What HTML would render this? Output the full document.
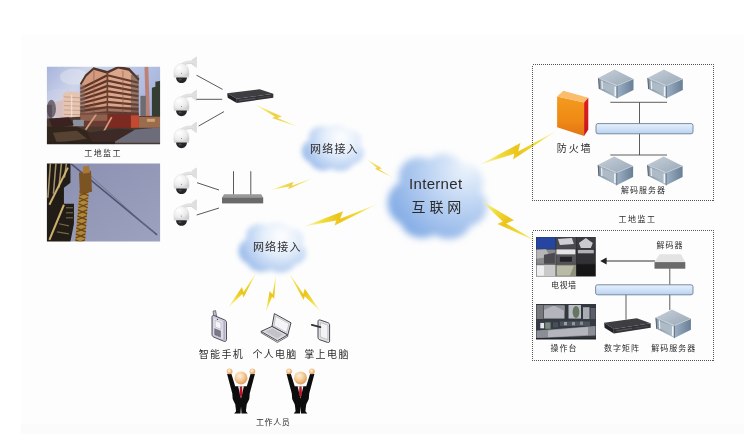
<!DOCTYPE html>
<html lang="zh-CN">
<head>
<meta charset="utf-8">
<title>工地监工 网络接入 互联网</title>
<style>
html,body{margin:0;padding:0;background:#ffffff;}
body{width:749px;height:444px;overflow:hidden;font-family:'Liberation Sans','Noto Sans CJK SC',sans-serif;}
svg{display:block;}
svg text{font-family:'Liberation Sans','Noto Sans CJK SC',sans-serif;}
</style>
</head>
<body>
<svg width="749" height="444" viewBox="0 0 749 444">
<defs>

<filter id="tb" filterUnits="userSpaceOnUse" x="0" y="0" width="749" height="444"><feGaussianBlur stdDeviation="0.32"/></filter>
<filter id="b1" x="-20%" y="-20%" width="140%" height="140%"><feGaussianBlur stdDeviation="0.45"/></filter>
<filter id="b06" x="-20%" y="-20%" width="140%" height="140%"><feGaussianBlur stdDeviation="0.6"/></filter>
<filter id="b2" x="-30%" y="-30%" width="160%" height="160%"><feGaussianBlur stdDeviation="0.8"/></filter>
<filter id="cb" x="-40%" y="-40%" width="180%" height="180%"><feGaussianBlur stdDeviation="3.6"/></filter>
<filter id="cb2" x="-40%" y="-40%" width="180%" height="180%"><feGaussianBlur stdDeviation="6"/></filter>
<filter id="cb3" x="-40%" y="-40%" width="180%" height="180%"><feGaussianBlur stdDeviation="2.6"/></filter>
<linearGradient id="bolt" x1="0" y1="0" x2="1" y2="0">
 <stop offset="0" stop-color="#f9ec9a"/><stop offset="0.3" stop-color="#f0d436"/>
 <stop offset="0.5" stop-color="#e9c61a"/><stop offset="0.7" stop-color="#f0d436"/><stop offset="1" stop-color="#f9ec9a"/>
</linearGradient>
<linearGradient id="bar" x1="0" y1="0" x2="0" y2="1">
 <stop offset="0" stop-color="#e6f0fb"/><stop offset="0.45" stop-color="#d3e4f8"/><stop offset="1" stop-color="#b7d2f2"/>
</linearGradient>
<linearGradient id="srvTop" x1="0" y1="0" x2="1" y2="1">
 <stop offset="0" stop-color="#c6d0da"/><stop offset="1" stop-color="#9aa8b6"/>
</linearGradient>
<linearGradient id="srvFront" x1="0" y1="0" x2="1" y2="0">
 <stop offset="0" stop-color="#8797a6"/><stop offset="1" stop-color="#b0bfcd"/>
</linearGradient>
<linearGradient id="srvSide" x1="0" y1="0" x2="1" y2="0">
 <stop offset="0" stop-color="#9cb0c4"/><stop offset="1" stop-color="#697f95"/>
</linearGradient>
<linearGradient id="fwFront" x1="0" y1="0" x2="0" y2="1">
 <stop offset="0" stop-color="#f39a1c"/><stop offset="0.6" stop-color="#ef8a17"/><stop offset="1" stop-color="#e3741a"/>
</linearGradient>
<linearGradient id="fwSide" x1="0" y1="0" x2="0" y2="1">
 <stop offset="0" stop-color="#e0201c"/><stop offset="1" stop-color="#c8161a"/>
</linearGradient>
<radialGradient id="head" cx="0.4" cy="0.35" r="0.7">
 <stop offset="0" stop-color="#fff0d8"/><stop offset="0.45" stop-color="#f7cf9f"/><stop offset="1" stop-color="#d99a5c"/>
</radialGradient>
<radialGradient id="camBody" cx="0.35" cy="0.3" r="0.8">
 <stop offset="0" stop-color="#ffffff"/><stop offset="0.6" stop-color="#ececec"/><stop offset="1" stop-color="#c9c9c9"/>
</radialGradient>
<linearGradient id="sky1" x1="0" y1="0" x2="1" y2="0.55">
 <stop offset="0" stop-color="#a2b0da"/><stop offset="0.3" stop-color="#cdd4ea"/><stop offset="0.7" stop-color="#b4c0e2"/><stop offset="1" stop-color="#9aaad8"/>
</linearGradient>
<linearGradient id="sky2" x1="0" y1="0" x2="1" y2="1">
 <stop offset="0" stop-color="#8a8fb0"/><stop offset="1" stop-color="#9da2c0"/>
</linearGradient>
<radialGradient id="cl1" cx="0.55" cy="0.35" r="0.65">
 <stop offset="0" stop-color="#eef4fc"/><stop offset="0.5" stop-color="#cfdff5"/><stop offset="1" stop-color="#9dbdea"/>
</radialGradient>
<radialGradient id="cl2" cx="0.6" cy="0.3" r="0.75">
 <stop offset="0" stop-color="#e6effb"/><stop offset="0.45" stop-color="#bdd3f2"/><stop offset="1" stop-color="#86aee6"/>
</radialGradient>
<radialGradient id="cg1" gradientUnits="userSpaceOnUse" cx="341.0" cy="137.5" r="41.6"><stop offset="0" stop-color="#ffffff"/><stop offset="0.4" stop-color="#e4eefa"/><stop offset="0.72" stop-color="#bdd3f3"/><stop offset="1" stop-color="#98b9e9"/></radialGradient><radialGradient id="cg2" gradientUnits="userSpaceOnUse" cx="281.2" cy="236.2" r="45.5"><stop offset="0" stop-color="#ffffff"/><stop offset="0.4" stop-color="#e4eefa"/><stop offset="0.72" stop-color="#bdd3f3"/><stop offset="1" stop-color="#98b9e9"/></radialGradient><radialGradient id="cg3" gradientUnits="userSpaceOnUse" cx="465.8" cy="168.7" r="85.0"><stop offset="0" stop-color="#ecf3fc"/><stop offset="0.4" stop-color="#c2d7f4"/><stop offset="0.72" stop-color="#a1c0ec"/><stop offset="1" stop-color="#82abe5"/></radialGradient><linearGradient id="bg4" gradientUnits="userSpaceOnUse" x1="254.1" y1="103.9" x2="299.8" y2="127.4"><stop offset="0" stop-color="#f7ee96" stop-opacity="0.5"/><stop offset="0.25" stop-color="#f0de3a"/><stop offset="0.47" stop-color="#ecc41c"/><stop offset="0.75" stop-color="#f0de3a"/><stop offset="1" stop-color="#f7ee96" stop-opacity="0.5"/></linearGradient><linearGradient id="bg5" gradientUnits="userSpaceOnUse" x1="269.7" y1="190.2" x2="314.5" y2="177.6"><stop offset="0" stop-color="#f7ee96" stop-opacity="0.5"/><stop offset="0.25" stop-color="#f0de3a"/><stop offset="0.47" stop-color="#ecc41c"/><stop offset="0.75" stop-color="#f0de3a"/><stop offset="1" stop-color="#f7ee96" stop-opacity="0.5"/></linearGradient><linearGradient id="bg6" gradientUnits="userSpaceOnUse" x1="365.7" y1="158.4" x2="394.3" y2="178.6"><stop offset="0" stop-color="#f7ee96" stop-opacity="0.5"/><stop offset="0.25" stop-color="#f0de3a"/><stop offset="0.47" stop-color="#ecc41c"/><stop offset="0.75" stop-color="#f0de3a"/><stop offset="1" stop-color="#f7ee96" stop-opacity="0.5"/></linearGradient><linearGradient id="bg7" gradientUnits="userSpaceOnUse" x1="480.2" y1="164.6" x2="556.5" y2="130.8"><stop offset="0" stop-color="#f7ee96" stop-opacity="0.5"/><stop offset="0.25" stop-color="#f0de3a"/><stop offset="0.47" stop-color="#ecc41c"/><stop offset="0.75" stop-color="#f0de3a"/><stop offset="1" stop-color="#f7ee96" stop-opacity="0.5"/></linearGradient><linearGradient id="bg8" gradientUnits="userSpaceOnUse" x1="481.0" y1="200.6" x2="537.8" y2="242.0"><stop offset="0" stop-color="#f7ee96" stop-opacity="0.5"/><stop offset="0.25" stop-color="#f0de3a"/><stop offset="0.47" stop-color="#ecc41c"/><stop offset="0.75" stop-color="#f0de3a"/><stop offset="1" stop-color="#f7ee96" stop-opacity="0.5"/></linearGradient><linearGradient id="bg9" gradientUnits="userSpaceOnUse" x1="303.8" y1="226.5" x2="377.5" y2="203.9"><stop offset="0" stop-color="#f7ee96" stop-opacity="0.5"/><stop offset="0.25" stop-color="#f0de3a"/><stop offset="0.47" stop-color="#ecc41c"/><stop offset="0.75" stop-color="#f0de3a"/><stop offset="1" stop-color="#f7ee96" stop-opacity="0.5"/></linearGradient><linearGradient id="bg10" gradientUnits="userSpaceOnUse" x1="228.1" y1="307.7" x2="256.6" y2="272.0"><stop offset="0" stop-color="#f7ee96" stop-opacity="0.5"/><stop offset="0.25" stop-color="#f0de3a"/><stop offset="0.47" stop-color="#ecc41c"/><stop offset="0.75" stop-color="#f0de3a"/><stop offset="1" stop-color="#f7ee96" stop-opacity="0.5"/></linearGradient><linearGradient id="bg11" gradientUnits="userSpaceOnUse" x1="265.7" y1="312.6" x2="276.1" y2="273.9"><stop offset="0" stop-color="#f7ee96" stop-opacity="0.5"/><stop offset="0.25" stop-color="#f0de3a"/><stop offset="0.47" stop-color="#ecc41c"/><stop offset="0.75" stop-color="#f0de3a"/><stop offset="1" stop-color="#f7ee96" stop-opacity="0.5"/></linearGradient><linearGradient id="bg12" gradientUnits="userSpaceOnUse" x1="320.5" y1="311.4" x2="288.4" y2="272.0"><stop offset="0" stop-color="#f7ee96" stop-opacity="0.5"/><stop offset="0.25" stop-color="#f0de3a"/><stop offset="0.47" stop-color="#ecc41c"/><stop offset="0.75" stop-color="#f0de3a"/><stop offset="1" stop-color="#f7ee96" stop-opacity="0.5"/></linearGradient>
</defs>
<rect x="21" y="34.6" width="723" height="399.4" fill="#fdfdfd"/>
<rect x="21" y="424" width="723" height="10" fill="#fbfbfb"/>
<g filter="url(#cb3)" fill="url(#cg1)"><ellipse cx="333.0" cy="148.8" rx="25.0" ry="16.5"/><ellipse cx="315.4" cy="151.2" rx="13.4" ry="12.5"/><ellipse cx="349.6" cy="153.0" rx="14.1" ry="11.5"/><ellipse cx="321.8" cy="137.0" rx="12.8" ry="11.0"/><ellipse cx="336.8" cy="134.5" rx="12.8" ry="10.0"/><ellipse cx="349.6" cy="140.0" rx="11.5" ry="10.0"/><ellipse cx="323.4" cy="160.5" rx="13.4" ry="10.0"/><ellipse cx="340.0" cy="162.0" rx="13.4" ry="9.0"/></g>
<g filter="url(#cb3)" fill="url(#cg2)"><ellipse cx="272.5" cy="248.3" rx="27.3" ry="17.8"/><ellipse cx="253.2" cy="251.1" rx="14.7" ry="13.5"/><ellipse cx="290.7" cy="252.9" rx="15.4" ry="12.4"/><ellipse cx="260.2" cy="235.7" rx="14.0" ry="11.9"/><ellipse cx="276.7" cy="233.0" rx="14.0" ry="10.8"/><ellipse cx="290.7" cy="238.9" rx="12.6" ry="10.8"/><ellipse cx="262.0" cy="261.0" rx="14.7" ry="10.8"/><ellipse cx="280.2" cy="262.7" rx="14.7" ry="9.7"/></g>
<g filter="url(#cb)" fill="url(#cg3)"><ellipse cx="437.5" cy="198.3" rx="40.2" ry="30.0"/><ellipse cx="409.2" cy="202.8" rx="21.6" ry="22.8"/><ellipse cx="464.3" cy="206.0" rx="22.7" ry="20.9"/><ellipse cx="419.5" cy="176.9" rx="20.6" ry="20.0"/><ellipse cx="443.7" cy="172.3" rx="20.6" ry="18.2"/><ellipse cx="464.3" cy="182.3" rx="18.5" ry="18.2"/><ellipse cx="422.1" cy="219.7" rx="21.6" ry="18.2"/><ellipse cx="448.8" cy="222.4" rx="21.6" ry="16.4"/></g>
<polygon points="254.1,103.9 282.0,116.4 277.5,117.9 299.8,127.4 272.0,118.0 274.9,116.8" fill="url(#bg4)" filter="url(#b1)" opacity="0.8"/>
<polygon points="269.7,190.2 293.7,181.8 291.7,185.8 314.5,177.6 288.1,189.3 289.2,186.6" fill="url(#bg5)" filter="url(#b1)" opacity="0.8"/>
<polygon points="365.7,158.4 382.0,168.4 378.7,169.1 394.3,178.6 374.9,168.7 377.1,168.1" fill="url(#bg6)" filter="url(#b1)" opacity="0.8"/>
<polygon points="480.2,164.6 520.4,143.1 518.2,151.6 556.5,130.8 513.1,159.6 514.2,153.8" fill="url(#bg7)" filter="url(#b1)" opacity="1.0"/>
<polygon points="481.0,200.6 514.0,220.3 506.1,223.5 537.8,242.0 497.4,224.0 502.7,221.5" fill="url(#bg8)" filter="url(#b1)" opacity="1.0"/>
<polygon points="303.8,226.5 343.1,211.2 340.1,218.7 377.5,203.9 334.6,225.5 336.2,220.4" fill="url(#bg9)" filter="url(#b1)" opacity="1.0"/>
<polygon points="228.1,307.7 241.9,286.9 243.6,292.0 256.6,272.0 243.6,297.5 242.2,294.1" fill="url(#bg10)" filter="url(#b1)" opacity="1.0"/>
<polygon points="265.7,312.6 269.7,291.1 272.5,294.5 276.1,273.9 274.2,298.9 272.1,296.7" fill="url(#bg11)" filter="url(#b1)" opacity="1.0"/>
<polygon points="320.5,311.4 304.7,288.5 303.3,294.0 288.4,272.0 303.6,299.9 304.8,296.3" fill="url(#bg12)" filter="url(#b1)" opacity="1.0"/>
<svg x="46.9" y="66.8" width="113.2" height="77.5" viewBox="0 0 113.2 77.5" preserveAspectRatio="none" overflow="hidden"><g filter="url(#b06)"><rect x="-3" y="-3" width="120" height="84" fill="url(#sky1)"/><ellipse cx="27" cy="10" rx="14" ry="8" fill="#eceef6" opacity="0.4"/><ellipse cx="12" cy="30" rx="14" ry="8" fill="#d4d4e4" opacity="0.35"/><polygon points="8.5,35 16,33 16,53 8.5,53" fill="#d6c0c2"/><polygon points="16,27 22,24.5 34,26 34,53 16,53" fill="#e6c4b2"/><g stroke="#b98f7c" stroke-width="0.9" opacity="0.75"><line x1="17" y1="30.0" x2="33.5" y2="31.0"/><line x1="17" y1="34.4" x2="33.5" y2="35.2"/><line x1="17" y1="38.8" x2="33.5" y2="39.4"/><line x1="17" y1="43.2" x2="33.5" y2="43.6"/><line x1="17" y1="47.6" x2="33.5" y2="47.8"/></g><rect x="24" y="28" width="1.4" height="24" fill="#f4e2d6" opacity="0.8"/><ellipse cx="4.5" cy="42" rx="4.6" ry="9" fill="#5b5058" opacity="0.8"/><rect x="-1" y="38" width="6" height="16" fill="#4a4046" opacity="0.6"/><polygon points="33.5,16 38.7,8 46.8,1 60.5,5 60.5,50 33.5,50" fill="#d49a80"/><polygon points="60.5,5 71.3,0 82,2 91.5,12 91.5,50 60.5,50" fill="#dca68c"/><g stroke="#5e3628" stroke-width="2.3"><line x1="33.5" y1="22.0" x2="60.5" y2="8.5"/><line x1="33.5" y1="25.7" x2="60.5" y2="13.8"/><line x1="33.5" y1="29.4" x2="60.5" y2="19.1"/><line x1="33.5" y1="33.1" x2="60.5" y2="24.4"/><line x1="33.5" y1="36.8" x2="60.5" y2="29.7"/><line x1="33.5" y1="40.6" x2="60.5" y2="35.0"/><line x1="33.5" y1="44.3" x2="60.5" y2="40.3"/><line x1="33.5" y1="48.0" x2="60.5" y2="45.6"/></g><g stroke="#643a2c" stroke-width="2.2"><line x1="60.5" y1="8.5" x2="91.5" y2="16.0"/><line x1="60.5" y1="13.8" x2="91.5" y2="20.4"/><line x1="60.5" y1="19.1" x2="91.5" y2="24.8"/><line x1="60.5" y1="24.4" x2="91.5" y2="29.3"/><line x1="60.5" y1="29.7" x2="91.5" y2="33.7"/><line x1="60.5" y1="35.0" x2="91.5" y2="38.1"/><line x1="60.5" y1="40.3" x2="91.5" y2="42.5"/><line x1="60.5" y1="45.6" x2="91.5" y2="46.9"/></g><polygon points="33,17 38.2,8 46.6,0.4 60.5,4.2 71.3,-0.8 82.5,1.2 92.6,12 91.5,14.2 81.8,4 71.3,1.6 60.5,7 46.9,3 39.5,9.6 34.4,18.2" fill="#4e342c"/><line x1="60.5" y1="5" x2="60.5" y2="50" stroke="#6b4234" stroke-width="1.6"/><line x1="47" y1="4" x2="47" y2="50" stroke="#8a5a46" stroke-width="0.9" opacity="0.7"/><line x1="76" y1="4" x2="76" y2="50" stroke="#8a5a46" stroke-width="0.9" opacity="0.7"/><rect x="84" y="8" width="8" height="42" fill="#5d4a44" opacity="0.55"/><rect x="33" y="18" width="5" height="32" fill="#7d6a66" opacity="0.5"/><polygon points="97.6,0 101.4,0 103,50 99,50" fill="#bf7a68" opacity="0.9"/><rect x="93.5" y="29" width="5.5" height="24" fill="#6d6c72"/><polygon points="105,21 108.5,20 108.5,15 114,14 114,62 105,62" fill="#363c32"/><polygon points="-2,52 33,50 115,49 115,80 -2,80" fill="#4a372f"/><polygon points="33.5,46.5 92,46.5 92,60 33.5,60" fill="#6a3b30"/><rect x="60" y="47.6" width="24" height="13.5" fill="#7c2c22"/><rect x="84" y="48.5" width="8" height="12.5" fill="#c24a30"/><rect x="92" y="50" width="22" height="11" fill="#9a6c4e"/><rect x="100" y="52" width="8" height="3" fill="#e0b080" opacity="0.8"/><rect x="33.5" y="46" width="27" height="8" fill="#9a6a58" opacity="0.8"/><rect x="26" y="53" width="11" height="6.5" fill="#8a909e"/><polygon points="2,52 22,50.5 27,58 6,62" fill="#3a2420"/><polygon points="0,60 30,60 52,70 62,80 0,80" fill="#33261f"/><polygon points="6,66 30,64 40,72 10,76" fill="#5e4a36" opacity="0.8"/><line x1="49.4" y1="47.5" x2="38.7" y2="62.9" stroke="#cf9f80" stroke-width="1.7"/><line x1="64.8" y1="50.4" x2="55.1" y2="67.8" stroke="#cf9f80" stroke-width="1.7"/><polygon points="86,63 115,60.5 115,76 66,76" fill="#6c6c7a"/><polygon points="40,66 70,62 88,63 66,76 46,76" fill="#3c2c26"/><rect x="-2" y="75" width="70" height="4" fill="#2c221e"/><rect x="33.5" y="40" width="58" height="8" fill="#5a3a30" opacity="0.45"/></g></svg>
<svg x="46.9" y="163.6" width="113.2" height="77.8" viewBox="0 0 113 77.5" preserveAspectRatio="none" overflow="hidden"><g filter="url(#b06)"><rect x="-2" y="-2" width="117" height="82" fill="url(#sky2)"/><line x1="24" y1="0" x2="110" y2="71" stroke="#4f546c" stroke-width="1.5"/><line x1="40" y1="9" x2="108" y2="70" stroke="#6a6f8c" stroke-width="0.8"/><polygon points="33.8,14 42.8,14 37.8,79 28,79" fill="#b28638"/><g stroke="#5a3c18" stroke-width="1.3" opacity="0.85"><line x1="33.1" y1="22" x2="42.2" y2="26"/><line x1="42.2" y1="22" x2="33.1" y2="26"/><line x1="32.6" y1="28" x2="41.7" y2="32"/><line x1="41.7" y1="28" x2="32.6" y2="32"/><line x1="32.0" y1="34" x2="41.3" y2="38"/><line x1="41.3" y1="34" x2="32.0" y2="38"/><line x1="31.5" y1="40" x2="40.8" y2="44"/><line x1="40.8" y1="40" x2="31.5" y2="44"/><line x1="30.9" y1="46" x2="40.3" y2="50"/><line x1="40.3" y1="46" x2="30.9" y2="50"/><line x1="30.4" y1="52" x2="39.9" y2="56"/><line x1="39.9" y1="52" x2="30.4" y2="56"/><line x1="29.9" y1="58" x2="39.4" y2="62"/><line x1="39.4" y1="58" x2="29.9" y2="62"/><line x1="29.3" y1="64" x2="39.0" y2="68"/><line x1="39.0" y1="64" x2="29.3" y2="68"/><line x1="28.8" y1="70" x2="38.5" y2="74"/><line x1="38.5" y1="70" x2="28.8" y2="74"/><line x1="28.3" y1="76" x2="38.0" y2="80"/><line x1="38.0" y1="76" x2="28.3" y2="80"/></g><polygon points="32,9 44,7 45,28 33,30" fill="#7c5222"/><polygon points="36,3 42,2 43,9 36,10" fill="#a87838"/><polygon points="-2,-2 23.5,-2 23.5,19 17,24 17,40 27,40 27,60 23,80 -2,80" fill="#231c14"/><g stroke="#b9a777" stroke-width="1.5" opacity="0.85"><line x1="3.5" y1="0" x2="1" y2="34"/><line x1="9" y1="0" x2="6.5" y2="30"/><line x1="14.5" y1="0" x2="12" y2="24"/><line x1="19.5" y1="0" x2="17.5" y2="14"/></g><g stroke="#d4b878" stroke-width="2.0" opacity="0.95"><line x1="21" y1="4" x2="2.5" y2="41"/><line x1="17" y1="41" x2="2.5" y2="76"/></g><g stroke="#8a7a52" stroke-width="1.1" opacity="0.8"><line x1="19" y1="44" x2="26" y2="44"/><line x1="19" y1="49" x2="26" y2="49"/><line x1="19" y1="54" x2="26" y2="54"/><line x1="12" y1="60" x2="22" y2="62"/><line x1="10" y1="68" x2="22" y2="70"/></g></g></svg>
<g transform="translate(173.5,56.8)" filter="url(#b1)"><path d="M18.5,3.2 L23,0 L23,10.8 L18.5,7.6 Z" fill="#dedede" stroke="#cfcfcf" stroke-width="0.4"/><path d="M19,5.2 C13,5 9,6.5 7.5,9" fill="none" stroke="#e2e2e2" stroke-width="3.2" stroke-linecap="round"/><path d="M19,6.6 C14,6.6 10.5,7.5 9,9.5" fill="none" stroke="#cdcdcd" stroke-width="0.7"/><path d="M0.3,17 C0.3,10.5 3.5,6.8 8,6.8 C12.5,6.8 15.6,10.5 15.6,17 L15.3,20.4 L0.6,20.4 Z" fill="url(#camBody)" stroke="#d6d6d6" stroke-width="0.4"/><rect x="0.6" y="19.2" width="14.7" height="1.6" fill="#d9d9d9"/><path d="M2.6,20.6 L13.4,20.6 C13.4,24 11,26.2 8,26.2 C5,26.2 2.6,24 2.6,20.6 Z" fill="#26262a"/><ellipse cx="6.6" cy="22.6" rx="1.6" ry="1" fill="#55555c" opacity="0.7"/><circle cx="8" cy="16.5" r="0.6" fill="#8a8a96"/></g>
<g transform="translate(173.5,90.0)" filter="url(#b1)"><path d="M18.5,3.2 L23,0 L23,10.8 L18.5,7.6 Z" fill="#dedede" stroke="#cfcfcf" stroke-width="0.4"/><path d="M19,5.2 C13,5 9,6.5 7.5,9" fill="none" stroke="#e2e2e2" stroke-width="3.2" stroke-linecap="round"/><path d="M19,6.6 C14,6.6 10.5,7.5 9,9.5" fill="none" stroke="#cdcdcd" stroke-width="0.7"/><path d="M0.3,17 C0.3,10.5 3.5,6.8 8,6.8 C12.5,6.8 15.6,10.5 15.6,17 L15.3,20.4 L0.6,20.4 Z" fill="url(#camBody)" stroke="#d6d6d6" stroke-width="0.4"/><rect x="0.6" y="19.2" width="14.7" height="1.6" fill="#d9d9d9"/><path d="M2.6,20.6 L13.4,20.6 C13.4,24 11,26.2 8,26.2 C5,26.2 2.6,24 2.6,20.6 Z" fill="#26262a"/><ellipse cx="6.6" cy="22.6" rx="1.6" ry="1" fill="#55555c" opacity="0.7"/><circle cx="8" cy="16.5" r="0.6" fill="#8a8a96"/></g>
<g transform="translate(173.5,122.0)" filter="url(#b1)"><path d="M18.5,3.2 L23,0 L23,10.8 L18.5,7.6 Z" fill="#dedede" stroke="#cfcfcf" stroke-width="0.4"/><path d="M19,5.2 C13,5 9,6.5 7.5,9" fill="none" stroke="#e2e2e2" stroke-width="3.2" stroke-linecap="round"/><path d="M19,6.6 C14,6.6 10.5,7.5 9,9.5" fill="none" stroke="#cdcdcd" stroke-width="0.7"/><path d="M0.3,17 C0.3,10.5 3.5,6.8 8,6.8 C12.5,6.8 15.6,10.5 15.6,17 L15.3,20.4 L0.6,20.4 Z" fill="url(#camBody)" stroke="#d6d6d6" stroke-width="0.4"/><rect x="0.6" y="19.2" width="14.7" height="1.6" fill="#d9d9d9"/><path d="M2.6,20.6 L13.4,20.6 C13.4,24 11,26.2 8,26.2 C5,26.2 2.6,24 2.6,20.6 Z" fill="#26262a"/><ellipse cx="6.6" cy="22.6" rx="1.6" ry="1" fill="#55555c" opacity="0.7"/><circle cx="8" cy="16.5" r="0.6" fill="#8a8a96"/></g>
<g transform="translate(173.5,167.8)" filter="url(#b1)"><path d="M18.5,3.2 L23,0 L23,10.8 L18.5,7.6 Z" fill="#dedede" stroke="#cfcfcf" stroke-width="0.4"/><path d="M19,5.2 C13,5 9,6.5 7.5,9" fill="none" stroke="#e2e2e2" stroke-width="3.2" stroke-linecap="round"/><path d="M19,6.6 C14,6.6 10.5,7.5 9,9.5" fill="none" stroke="#cdcdcd" stroke-width="0.7"/><path d="M0.3,17 C0.3,10.5 3.5,6.8 8,6.8 C12.5,6.8 15.6,10.5 15.6,17 L15.3,20.4 L0.6,20.4 Z" fill="url(#camBody)" stroke="#d6d6d6" stroke-width="0.4"/><rect x="0.6" y="19.2" width="14.7" height="1.6" fill="#d9d9d9"/><path d="M2.6,20.6 L13.4,20.6 C13.4,24 11,26.2 8,26.2 C5,26.2 2.6,24 2.6,20.6 Z" fill="#26262a"/><ellipse cx="6.6" cy="22.6" rx="1.6" ry="1" fill="#55555c" opacity="0.7"/><circle cx="8" cy="16.5" r="0.6" fill="#8a8a96"/></g>
<g transform="translate(173.5,199.6)" filter="url(#b1)"><path d="M18.5,3.2 L23,0 L23,10.8 L18.5,7.6 Z" fill="#dedede" stroke="#cfcfcf" stroke-width="0.4"/><path d="M19,5.2 C13,5 9,6.5 7.5,9" fill="none" stroke="#e2e2e2" stroke-width="3.2" stroke-linecap="round"/><path d="M19,6.6 C14,6.6 10.5,7.5 9,9.5" fill="none" stroke="#cdcdcd" stroke-width="0.7"/><path d="M0.3,17 C0.3,10.5 3.5,6.8 8,6.8 C12.5,6.8 15.6,10.5 15.6,17 L15.3,20.4 L0.6,20.4 Z" fill="url(#camBody)" stroke="#d6d6d6" stroke-width="0.4"/><rect x="0.6" y="19.2" width="14.7" height="1.6" fill="#d9d9d9"/><path d="M2.6,20.6 L13.4,20.6 C13.4,24 11,26.2 8,26.2 C5,26.2 2.6,24 2.6,20.6 Z" fill="#26262a"/><ellipse cx="6.6" cy="22.6" rx="1.6" ry="1" fill="#55555c" opacity="0.7"/><circle cx="8" cy="16.5" r="0.6" fill="#8a8a96"/></g>
<g transform="translate(227.2,89.2) scale(1.0,1.0)" filter="url(#b1)"><polygon points="0.0,4.0 32.4,0.0 46.1,4.5 9.6,9.6" fill="#3c3c42"/><polygon points="0.0,4.0 9.6,9.6 9.6,13.7 0.5,8.6" fill="#222226"/><polygon points="9.6,9.6 46.1,4.5 46.1,8.6 9.6,13.7" fill="#303036"/><line x1="12" y1="11.3" x2="28" y2="9.1" stroke="#55555e" stroke-width="1.2"/><line x1="30" y1="8.8" x2="44" y2="6.8" stroke="#4a4450" stroke-width="1.2"/></g>
<g filter="url(#b1)"><rect x="233.0" y="171.2" width="1.0" height="24" fill="#5a5a5a"/><rect x="250.3" y="171.2" width="1.0" height="24" fill="#5a5a5a"/><polygon points="224,194.2 261.2,194.2 263.2,197.6 222,197.6" fill="#999999"/><rect x="222" y="197.4" width="41.2" height="6" fill="#6a6a6a"/></g>
<rect x="532.5" y="64.5" width="181" height="136" fill="none" stroke="#555" stroke-width="1" stroke-dasharray="1 1" shape-rendering="crispEdges"/>
<rect x="532.5" y="230.5" width="181" height="130" fill="none" stroke="#555" stroke-width="1" stroke-dasharray="1 1" shape-rendering="crispEdges"/>
<g filter="url(#b1)"><polygon points="557.1,96.6 584.1,102.5 584.1,135.9 557.1,127.2" fill="url(#fwFront)"/><polygon points="557.1,96.6 563.4,90.8 588.3,97.7 584.1,102.5" fill="#f9bd6c"/><polygon points="584.1,102.5 588.3,97.7 588.3,129.5 584.1,135.9" fill="url(#fwSide)"/></g>
<g transform="translate(598.2,69.6) scale(0.97,1)" filter="url(#b1)"><polygon points="0.0,8.4 16.9,0.0 36.4,9.3 19.5,16.0" fill="url(#srvTop)"/><polygon points="0.0,8.4 19.5,16.0 19.5,28.7 0.9,19.4" fill="url(#srvFront)"/><polygon points="19.5,16.0 36.4,9.3 36.4,20.3 19.5,28.7" fill="url(#srvSide)"/><polygon points="3.5,11.5 16,16.5 16,24.5 3.9,18.8" fill="#aebbc7"/><line x1="3.8" y1="11" x2="4.2" y2="19.5" stroke="#e8eef3" stroke-width="1.3"/><line x1="17.6" y1="17" x2="17.6" y2="26.5" stroke="#f0f4f8" stroke-width="1.6"/><line x1="0.4" y1="8.4" x2="1.1" y2="19.4" stroke="#4d5864" stroke-width="0.9"/><line x1="19.5" y1="16" x2="19.5" y2="28.7" stroke="#566371" stroke-width="0.8"/><polyline points="0,8.4 19.5,16 36.4,9.3" fill="none" stroke="#dfe6ec" stroke-width="0.5" opacity="0.8"/></g>
<g transform="translate(647.5,69.6) scale(0.97,1)" filter="url(#b1)"><polygon points="0.0,8.4 16.9,0.0 36.4,9.3 19.5,16.0" fill="url(#srvTop)"/><polygon points="0.0,8.4 19.5,16.0 19.5,28.7 0.9,19.4" fill="url(#srvFront)"/><polygon points="19.5,16.0 36.4,9.3 36.4,20.3 19.5,28.7" fill="url(#srvSide)"/><polygon points="3.5,11.5 16,16.5 16,24.5 3.9,18.8" fill="#aebbc7"/><line x1="3.8" y1="11" x2="4.2" y2="19.5" stroke="#e8eef3" stroke-width="1.3"/><line x1="17.6" y1="17" x2="17.6" y2="26.5" stroke="#f0f4f8" stroke-width="1.6"/><line x1="0.4" y1="8.4" x2="1.1" y2="19.4" stroke="#4d5864" stroke-width="0.9"/><line x1="19.5" y1="16" x2="19.5" y2="28.7" stroke="#566371" stroke-width="0.8"/><polyline points="0,8.4 19.5,16 36.4,9.3" fill="none" stroke="#dfe6ec" stroke-width="0.5" opacity="0.8"/></g>
<g transform="translate(597.8,156.6) scale(0.97,1)" filter="url(#b1)"><polygon points="0.0,8.4 16.9,0.0 36.4,9.3 19.5,16.0" fill="url(#srvTop)"/><polygon points="0.0,8.4 19.5,16.0 19.5,28.7 0.9,19.4" fill="url(#srvFront)"/><polygon points="19.5,16.0 36.4,9.3 36.4,20.3 19.5,28.7" fill="url(#srvSide)"/><polygon points="3.5,11.5 16,16.5 16,24.5 3.9,18.8" fill="#aebbc7"/><line x1="3.8" y1="11" x2="4.2" y2="19.5" stroke="#e8eef3" stroke-width="1.3"/><line x1="17.6" y1="17" x2="17.6" y2="26.5" stroke="#f0f4f8" stroke-width="1.6"/><line x1="0.4" y1="8.4" x2="1.1" y2="19.4" stroke="#4d5864" stroke-width="0.9"/><line x1="19.5" y1="16" x2="19.5" y2="28.7" stroke="#566371" stroke-width="0.8"/><polyline points="0,8.4 19.5,16 36.4,9.3" fill="none" stroke="#dfe6ec" stroke-width="0.5" opacity="0.8"/></g>
<g transform="translate(647.3,156.6) scale(0.97,1)" filter="url(#b1)"><polygon points="0.0,8.4 16.9,0.0 36.4,9.3 19.5,16.0" fill="url(#srvTop)"/><polygon points="0.0,8.4 19.5,16.0 19.5,28.7 0.9,19.4" fill="url(#srvFront)"/><polygon points="19.5,16.0 36.4,9.3 36.4,20.3 19.5,28.7" fill="url(#srvSide)"/><polygon points="3.5,11.5 16,16.5 16,24.5 3.9,18.8" fill="#aebbc7"/><line x1="3.8" y1="11" x2="4.2" y2="19.5" stroke="#e8eef3" stroke-width="1.3"/><line x1="17.6" y1="17" x2="17.6" y2="26.5" stroke="#f0f4f8" stroke-width="1.6"/><line x1="0.4" y1="8.4" x2="1.1" y2="19.4" stroke="#4d5864" stroke-width="0.9"/><line x1="19.5" y1="16" x2="19.5" y2="28.7" stroke="#566371" stroke-width="0.8"/><polyline points="0,8.4 19.5,16 36.4,9.3" fill="none" stroke="#dfe6ec" stroke-width="0.5" opacity="0.8"/></g>
<g transform="translate(655.6,309.4) scale(0.97,1)" filter="url(#b1)"><polygon points="0.0,8.4 16.9,0.0 36.4,9.3 19.5,16.0" fill="url(#srvTop)"/><polygon points="0.0,8.4 19.5,16.0 19.5,28.7 0.9,19.4" fill="url(#srvFront)"/><polygon points="19.5,16.0 36.4,9.3 36.4,20.3 19.5,28.7" fill="url(#srvSide)"/><polygon points="3.5,11.5 16,16.5 16,24.5 3.9,18.8" fill="#aebbc7"/><line x1="3.8" y1="11" x2="4.2" y2="19.5" stroke="#e8eef3" stroke-width="1.3"/><line x1="17.6" y1="17" x2="17.6" y2="26.5" stroke="#f0f4f8" stroke-width="1.6"/><line x1="0.4" y1="8.4" x2="1.1" y2="19.4" stroke="#4d5864" stroke-width="0.9"/><line x1="19.5" y1="16" x2="19.5" y2="28.7" stroke="#566371" stroke-width="0.8"/><polyline points="0,8.4 19.5,16 36.4,9.3" fill="none" stroke="#dfe6ec" stroke-width="0.5" opacity="0.8"/></g>
<g filter="url(#b1)"><line x1="196.5" y1="75.2" x2="222.6" y2="89.4" stroke="#505050" stroke-width="0.95"/><line x1="196.5" y1="99.3" x2="222.2" y2="99.3" stroke="#505050" stroke-width="0.95"/><line x1="198.7" y1="126" x2="224" y2="111.6" stroke="#505050" stroke-width="0.95"/><line x1="197" y1="182.7" x2="219" y2="190" stroke="#505050" stroke-width="0.95"/><line x1="196.7" y1="215" x2="219" y2="208" stroke="#505050" stroke-width="0.95"/><line x1="610.3" y1="102.3" x2="667" y2="102.3" stroke="#4c4c4c" stroke-width="0.9"/><line x1="639.5" y1="102.3" x2="639.5" y2="155" stroke="#4c4c4c" stroke-width="0.9"/><line x1="610.3" y1="155" x2="667" y2="155" stroke="#4c4c4c" stroke-width="0.9"/></g>
<rect x="596" y="123.6" width="97" height="10.2" rx="2" ry="2" fill="url(#bar)" stroke="#6d7f96" stroke-width="0.9"/>
<g filter="url(#b1)"><line x1="669.8" y1="268" x2="669.8" y2="310" stroke="#4c4c4c" stroke-width="0.9"/><line x1="626" y1="294" x2="626" y2="319.5" stroke="#4c4c4c" stroke-width="0.9"/><line x1="604" y1="261" x2="655" y2="261" stroke="#333" stroke-width="1.0"/></g>
<rect x="595.6" y="284.8" width="97.4" height="10" rx="2" ry="2" fill="url(#bar)" stroke="#6d7f96" stroke-width="0.9"/>
<polygon points="600.2,261 606.6,257.4 606.6,264.6" fill="#222" filter="url(#b1)"/>
<g filter="url(#b1)"><polygon points="659.6,254.2 680.9,254.2 685.3,262.1 654.5,262.1" fill="#e3e3e3"/><rect x="654.5" y="262.1" width="30.8" height="6.6" fill="#6b6b6b"/></g>
<g transform="translate(604.1,318.2) scale(1.01,1.12)" filter="url(#b1)"><polygon points="0.0,4.0 32.4,0.0 46.1,4.5 9.6,9.6" fill="#3c3c42"/><polygon points="0.0,4.0 9.6,9.6 9.6,13.7 0.5,8.6" fill="#222226"/><polygon points="9.6,9.6 46.1,4.5 46.1,8.6 9.6,13.7" fill="#303036"/><line x1="12" y1="11.3" x2="28" y2="9.1" stroke="#55555e" stroke-width="1.2"/><line x1="30" y1="8.8" x2="44" y2="6.8" stroke="#4a4450" stroke-width="1.2"/></g>
<svg x="536" y="237" width="59.8" height="39.6" viewBox="0 0 60 40" preserveAspectRatio="none" overflow="hidden"><g filter="url(#b06)"><rect x="-1" y="-1" width="62" height="42" fill="#2a2a2c"/><rect x="0.3" y="0.3" width="19.4" height="11.700000000000001" fill="#2745a0"/><rect x="20.3" y="0.3" width="19.9" height="11.700000000000001" fill="#4a4a50"/><rect x="40.8" y="0.3" width="18.9" height="11.700000000000001" fill="#3a3a40"/><rect x="0.3" y="12.600000000000001" width="19.4" height="14.6" fill="#8a8a8c"/><rect x="20.3" y="12.600000000000001" width="19.9" height="14.6" fill="#55555a"/><rect x="40.8" y="12.600000000000001" width="18.9" height="14.6" fill="#303034"/><rect x="0.3" y="27.8" width="19.4" height="11.9" fill="#c9c9c9"/><rect x="20.3" y="27.8" width="19.9" height="11.9" fill="#8f9080"/><rect x="40.8" y="27.8" width="18.9" height="11.9" fill="#161618"/><polygon points="22,2 36,1 38,7 24,8" fill="#cfcfd4"/><rect x="20.5" y="12.5" width="19" height="5" fill="#e4e4e6"/><rect x="24" y="20" width="12" height="5" fill="#222226"/><polygon points="43,6 50,1 57,6 55,11 45,11" fill="#c9c9cf"/><rect x="42" y="13" width="16" height="3.5" fill="#b0b0b6"/><polygon points="0.5,13 10,12.5 14,20 0.5,22" fill="#b5b5b8"/><polygon points="8,18 19,16 19,27 8,27" fill="#4c4c50"/><rect x="1" y="29" width="7" height="10" fill="#efefef"/><polygon points="21,29 38,29 34,39 21,39" fill="#b9baa8"/></g></svg>
<svg x="536" y="304" width="60" height="35.5" viewBox="0 0 60 35.6" preserveAspectRatio="none" overflow="hidden"><g filter="url(#b06)"><rect x="-1" y="-1" width="62" height="38" fill="#33373d"/><rect x="0.5" y="1" width="7" height="14" fill="#77787c"/><rect x="8" y="1.6" width="20.5" height="13" fill="#b3b4bc"/><polygon points="8,6 18,1.6 28.5,7 28.5,1.6 8,1.6" fill="#8f9199"/><rect x="32.5" y="1" width="12.5" height="13.6" fill="#b9bcc0"/><ellipse cx="40" cy="8" rx="3.4" ry="6" fill="#66745f"/><rect x="47" y="3.2" width="6.5" height="12" fill="#a9abb5"/><rect x="54.5" y="4" width="5" height="12" fill="#5b5f6a"/><rect x="0" y="15.2" width="60" height="10.5" fill="#343a42"/><rect x="24" y="17.5" width="30" height="4.5" fill="#5a606a" opacity="0.7"/><rect x="28" y="18" width="3" height="3.4" fill="#aeb2ba" opacity="0.8"/><rect x="36" y="18" width="3" height="3.4" fill="#aeb2ba" opacity="0.7"/><rect x="44" y="17.6" width="3" height="3.4" fill="#aeb2ba" opacity="0.6"/><rect x="4.3" y="19" width="3.8" height="5.4" fill="#e6e6ea"/><rect x="9.2" y="18.4" width="5.4" height="6.5" fill="#7d8a80"/><rect x="17" y="18.5" width="5" height="5" fill="#4a5058"/><polygon points="0.5,26.5 59.5,22 59.5,31.5 0.5,34.4" fill="#8c8e96"/><polygon points="12,26.6 52,23 52,31 12,33.4" fill="#b4b5bd"/><rect x="0" y="34" width="60" height="2" fill="#24262b"/></g></svg>
<g filter="url(#b1)" stroke-linejoin="round"><path d="M213.0,311.2 L215.6,310.6 L216.6,316.4 L213.8,316.2 Z" fill="#c2c2d2" stroke="#4a4a52" stroke-width="0.7"/><path d="M212.0,317.2 C212.0,315.6 213.0,315.1 214.4,315.6 L224.4,319.8 C225.9,320.4 226.5,321.3 226.5,322.8 L226.5,339.4 C226.5,341.2 225.3,341.9 223.7,341.2 L214.0,337.2 C212.7,336.6 212.0,335.7 212.0,334.3 Z" fill="#cdcde0" stroke="#3e3e46" stroke-width="0.9"/><path d="M213.6,318 L222.6,321.7 L222.6,338.4 L213.6,334.8 Z" fill="#e3e3ef"/><path d="M215.2,320.4 L221.0,322.8 L221.0,329.4 L215.2,327 Z" fill="#f4f4fa" stroke="#8a8a98" stroke-width="0.4"/><path d="M214.6,328.6 L220.6,331 L220.6,337.2 L214.6,334.8 Z" fill="#787886" stroke="#5a5a66" stroke-width="0.4"/><path d="M224.2,321 L224.2,340.2" stroke="#a6a6b8" stroke-width="1.1"/><circle cx="217.4" cy="319.4" r="0.55" fill="#333"/></g>
<g filter="url(#b1)" stroke-linejoin="round"><path d="M274.4,313.6 L291.0,322.8 L287.8,334.9 L272.0,326.4 Z" fill="#e4e4e9" stroke="#48484e" stroke-width="1"/><path d="M275.6,316.2 L289.0,323.6 L286.6,332.4 L274.0,325.6 Z" fill="#f5f5f8" stroke="#8c8c94" stroke-width="0.4"/><path d="M261.0,331.4 L272.0,326.4 L287.8,334.9 L277.4,340.8 Z" fill="#d8d8de" stroke="#48484e" stroke-width="1"/><path d="M261.0,331.4 L261.2,332.8 L277.4,342.4 L287.8,336.4 L287.8,334.9" fill="none" stroke="#48484e" stroke-width="0.8"/><path d="M265.6,331.6 L272.2,328.6 L283.2,334.6 L277.0,338.2 Z" fill="#c2c2c9"/></g>
<g filter="url(#b1)" stroke-linejoin="round"><path d="M318.0,321.4 C318.0,320.2 318.9,319.6 320.2,320.0 L327.8,322.6 C329,323 329.6,323.8 329.6,325 L329.6,341 C329.6,342.2 328.8,342.8 327.6,342.4 L319.9,339.8 C318.7,339.4 318.0,338.6 318.0,337.4 Z" fill="#e0e0e6" stroke="#48484e" stroke-width="1"/><path d="M320.4,322.6 L327.8,325 L327.8,339.6 L320.4,337 Z" fill="#f3f3f6" stroke="#888" stroke-width="0.4"/><path d="M311.8,324.8 L320.4,327.2" stroke="#333" stroke-width="1.8" stroke-linecap="round"/></g>
<g transform="translate(241.0,0)" filter="url(#b1)"><path d="M-13.9,374 L-9.6,374 L-5.8,386.2 L5.8,386.2 L9.6,374 L13.9,374 L8.7,393.6 L8.3,398.9 L5.7,404.6 L4.9,411.2 L6.8,413.6 L0.5,413.6 L0,406.5 L-0.5,413.6 L-6.8,413.6 L-4.9,411.2 L-5.7,404.6 L-8.3,398.9 L-8.7,393.6 Z" fill="#0b0b0d"/><path d="M-2.9,386.2 L2.9,386.2 L0,398.6 Z" fill="#f4f4f4"/><path d="M-1.1,386.6 L1.1,386.6 L1.5,394.4 L0,397.6 L-1.5,394.4 Z" fill="#b81426"/><circle cx="-11.4" cy="371.4" r="2.7" fill="url(#head)" stroke="#e8b070" stroke-width="0.4"/><circle cx="11.4" cy="371.4" r="2.7" fill="url(#head)" stroke="#e8b070" stroke-width="0.4"/><circle cx="0" cy="377.9" r="7.4" fill="#ffffff"/><circle cx="0" cy="377.9" r="6.5" fill="url(#head)"/></g>
<g transform="translate(300.5,0)" filter="url(#b1)"><path d="M-13.9,374 L-9.6,374 L-5.8,386.2 L5.8,386.2 L9.6,374 L13.9,374 L8.7,393.6 L8.3,398.9 L5.7,404.6 L4.9,411.2 L6.8,413.6 L0.5,413.6 L0,406.5 L-0.5,413.6 L-6.8,413.6 L-4.9,411.2 L-5.7,404.6 L-8.3,398.9 L-8.7,393.6 Z" fill="#0b0b0d"/><path d="M-2.9,386.2 L2.9,386.2 L0,398.6 Z" fill="#f4f4f4"/><path d="M-1.1,386.6 L1.1,386.6 L1.5,394.4 L0,397.6 L-1.5,394.4 Z" fill="#b81426"/><circle cx="-11.4" cy="371.4" r="2.7" fill="url(#head)" stroke="#e8b070" stroke-width="0.4"/><circle cx="11.4" cy="371.4" r="2.7" fill="url(#head)" stroke="#e8b070" stroke-width="0.4"/><circle cx="0" cy="377.9" r="7.4" fill="#ffffff"/><circle cx="0" cy="377.9" r="6.5" fill="url(#head)"/></g>
<g filter="url(#tb)">
<text id="t_site1" x="84.3" y="156.4" font-size="8" letter-spacing="1.4" fill="#2c2c2c">工地监工</text>
<text id="t_net1" x="310" y="153.2" font-size="11" letter-spacing="1.2" fill="#2c2c2c">网络接入</text>
<text id="t_net2" x="252.9" y="251.3" font-size="11" letter-spacing="1.2" fill="#2c2c2c">网络接入</text>
<text id="t_inet" x="409.1" y="189.4" font-size="15" letter-spacing="0.3" fill="#2c2c2c">Internet</text>
<text id="t_hlw" x="411.5" y="211.8" font-size="14" letter-spacing="3.9" fill="#2c2c2c">互联网</text>
<text id="t_fw" x="556.8" y="152.4" font-size="10" letter-spacing="1.9" fill="#2c2c2c">防火墙</text>
<text id="t_dec1" x="620.9" y="193.3" font-size="8" letter-spacing="1" fill="#2c2c2c">解码服务器</text>
<text id="t_site2" x="618.6" y="221.6" font-size="8" letter-spacing="1.5" fill="#2c2c2c">工地监工</text>
<text id="t_tv" x="551" y="288.4" font-size="8" letter-spacing="0.5" fill="#2c2c2c">电视墙</text>
<text id="t_decoder" x="656.5" y="248.3" font-size="8" letter-spacing="1" fill="#2c2c2c">解码器</text>
<text id="t_console" x="550.4" y="351" font-size="8" letter-spacing="1" fill="#2c2c2c">操作台</text>
<text id="t_matrix" x="604.1" y="351" font-size="8" letter-spacing="1" fill="#2c2c2c">数字矩阵</text>
<text id="t_dec2" x="651.3" y="351" font-size="8" letter-spacing="1" fill="#2c2c2c">解码服务器</text>
<text id="t_phone" x="198.8" y="358.4" font-size="10" letter-spacing="1.3" fill="#2c2c2c">智能手机</text>
<text id="t_pc" x="252.4" y="358.4" font-size="10" letter-spacing="1.3" fill="#2c2c2c">个人电脑</text>
<text id="t_pda" x="304.2" y="358.4" font-size="10" letter-spacing="1.4" fill="#2c2c2c">掌上电脑</text>
<text id="t_staff" x="256" y="425.2" font-size="8" letter-spacing="0.6" fill="#2c2c2c">工作人员</text>
</g>
</svg>
</body>
</html>
